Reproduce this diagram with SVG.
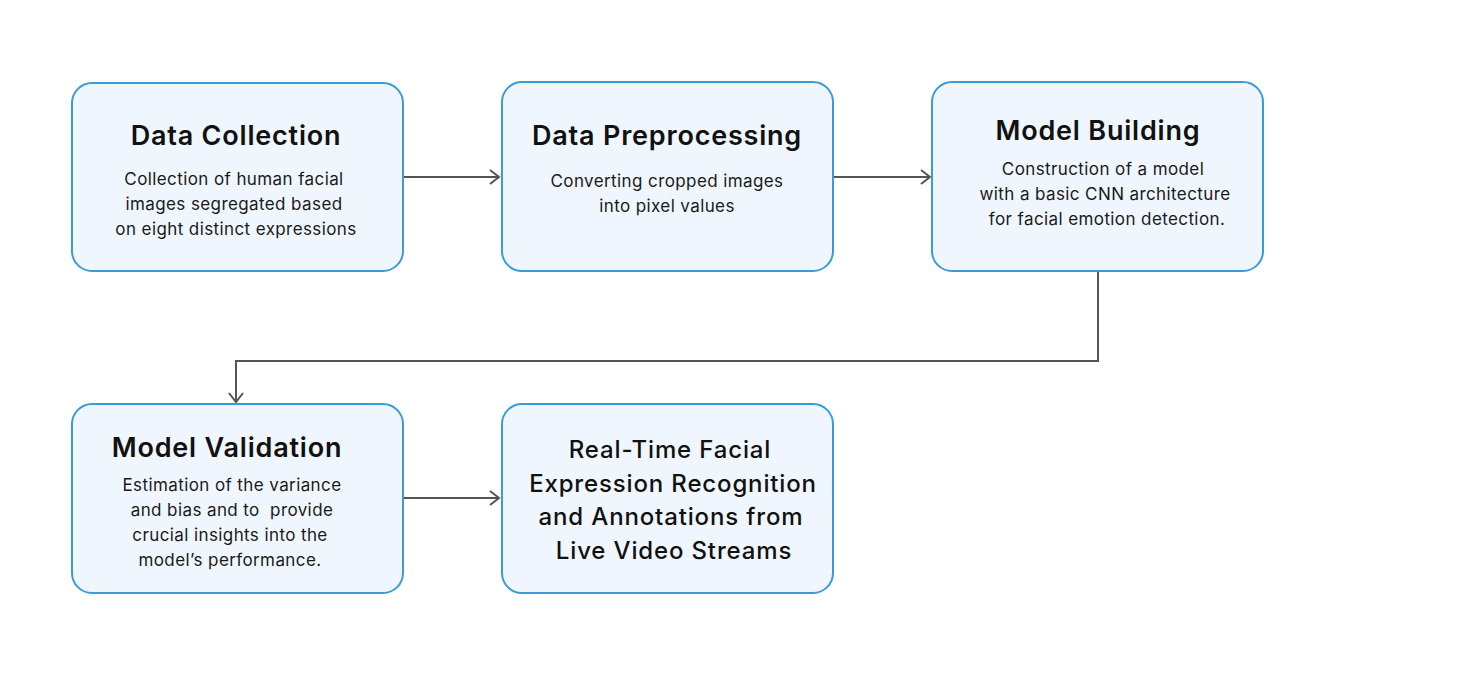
<svg xmlns="http://www.w3.org/2000/svg" width="1459" height="694" viewBox="0 0 1459 694">
<style>
.box{fill:#f0f6fd;stroke:#3b9bd9;stroke-width:2}
.t{font-family:Inter,"Noto Sans",sans-serif;font-weight:600;font-size:27px;letter-spacing:0.8px;fill:#111;text-anchor:middle}
.b{font-family:Inter,"Noto Sans",sans-serif;font-weight:400;font-size:17px;letter-spacing:0.4px;fill:#1a1a1a;text-anchor:middle}
.m{font-family:Inter,"Noto Sans",sans-serif;font-weight:500;font-size:24px;letter-spacing:0.85px;fill:#111;text-anchor:middle}
.c{fill:none;stroke:#555;stroke-width:2}
</style>
<defs>
<marker id="ah" viewBox="0 0 12 16" refX="10" refY="8" markerWidth="12" markerHeight="16" markerUnits="userSpaceOnUse" orient="auto">
<path d="M1,1 L10,8 L1,15" fill="none" stroke="#555" stroke-width="2"/>
</marker>
</defs>
<rect width="1459" height="694" fill="#fff"/>
<g id="connectors">
<path class="c" d="M403,177 H499" marker-end="url(#ah)"/>
<path class="c" d="M833,177 H930" marker-end="url(#ah)"/>
<path class="c" d="M1098,271 V361 H236 V402" marker-end="url(#ah)"/>
<path class="c" d="M403,498 H499" marker-end="url(#ah)"/>
</g>
<g id="n1">
<rect class="box" x="72" y="83" width="331" height="188" rx="20"/>
<text class="t" x="236" y="145">Data Collection</text>
<text class="b" x="234" y="185">Collection of human facial</text>
<text class="b" x="234" y="210">images segregated based</text>
<text class="b" x="236" y="235">on eight distinct expressions</text>
</g>
<g id="n2">
<rect class="box" x="502" y="82" width="331" height="189" rx="20"/>
<text class="t" x="667" y="145">Data Preprocessing</text>
<text class="b" x="667" y="187">Converting cropped images</text>
<text class="b" x="667" y="212">into pixel values</text>
</g>
<g id="n3">
<rect class="box" x="932" y="82" width="331" height="189" rx="20"/>
<text class="t" x="1098" y="140">Model Building</text>
<text class="b" x="1103" y="175">Construction of a model</text>
<text class="b" x="1105" y="200">with a basic CNN architecture</text>
<text class="b" x="1107" y="225">for facial emotion detection.</text>
</g>
<g id="n4">
<rect class="box" x="72" y="404" width="331" height="189" rx="20"/>
<text class="t" x="227" y="457">Model Validation</text>
<text class="b" x="232" y="491">Estimation of the variance</text>
<text class="b" x="232" y="516">and bias and to&#160; provide</text>
<text class="b" x="230" y="541">crucial insights into the</text>
<text class="b" x="230" y="566">model’s performance.</text>
</g>
<g id="n5">
<rect class="box" x="502" y="404" width="331" height="189" rx="20"/>
<text class="m" x="670" y="458">Real-Time Facial</text>
<text class="m" x="673" y="492">Expression Recognition</text>
<text class="m" x="671" y="525">and Annotations from</text>
<text class="m" x="674" y="559">Live Video Streams</text>
</g>
</svg>
